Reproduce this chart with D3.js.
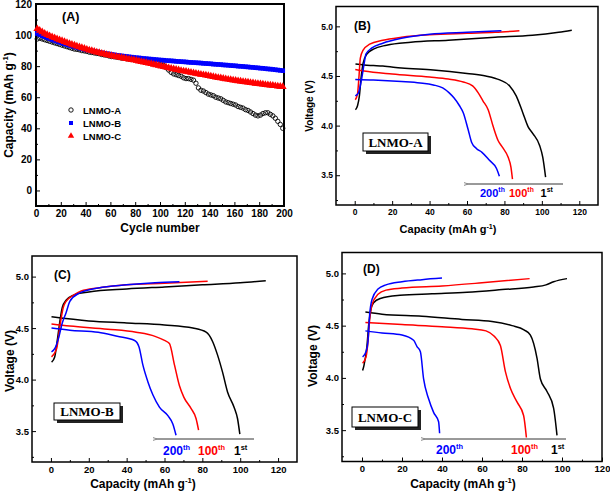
<!DOCTYPE html>
<html>
<head>
<meta charset="utf-8">
<script src="https://cdn.jsdelivr.net/npm/d3@7/dist/d3.min.js"></script>
<style>
body { margin: 0; background: #fff; }
text { font-family: "Liberation Sans", Arial, sans-serif; font-weight: bold; fill: #000; }
</style>
</head>
<body>
<div id="chart"></div>
<script>
// ---- panel A: capacity vs cycle (every 2nd cycle) ----
var cycles = d3.range(1, 200, 2);
var capA = [97.5, 98, 97.5, 97, 96.5, 96, 95.5, 95, 94.5, 94,
    93.5, 93, 92.5, 92, 91.5, 91, 90.8, 90.5, 90, 89.8,
    89.5, 89, 88.8, 88.5, 88.2, 88, 87.5, 87.2, 87, 86.5,
    86.2, 86, 85.8, 85.5, 85.2, 85, 84.8, 84.5, 84.3, 84.2,
    84, 84, 83.8, 83.8, 83.5, 83.2, 83, 82.8, 82.5, 82,
    81.5, 80.5, 79, 77.5, 76, 75, 74.5, 74, 73.5, 72.5,
    72, 72, 71.5, 71, 69, 66, 64.5, 64, 63, 62,
    61.5, 61, 60, 59.5, 59, 58, 57, 56.5, 56, 55.5,
    55, 54, 53.5, 53, 52, 51.5, 50.5, 49.5, 48.5, 48,
    48.5, 49.5, 50, 50, 49, 48, 46.5, 44.5, 42.5, 40];
var capB = [101, 100.3, 99.6, 99, 98.3, 97.7, 97.1, 96.5, 96, 95.4,
    94.9, 94.4, 93.9, 93.4, 93, 92.5, 92.1, 91.7, 91.3, 90.9,
    90.5, 90.2, 89.8, 89.5, 89.2, 88.9, 88.6, 88.3, 88, 87.8,
    87.5, 87.3, 87, 86.8, 86.6, 86.4, 86.2, 86, 85.8, 85.6,
    85.4, 85.3, 85.1, 84.9, 84.8, 84.6, 84.5, 84.3, 84.2, 84,
    83.9, 83.8, 83.6, 83.5, 83.4, 83.3, 83.1, 83, 82.9, 82.8,
    82.7, 82.5, 82.4, 82.3, 82.2, 82.1, 82, 81.8, 81.7, 81.6,
    81.5, 81.3, 81.2, 81.1, 81, 80.8, 80.7, 80.6, 80.4, 80.3,
    80.2, 80, 79.9, 79.8, 79.6, 79.5, 79.3, 79.2, 79, 78.9,
    78.7, 78.6, 78.4, 78.2, 78.1, 77.9, 77.7, 77.5, 77.3, 77.1];
var capC = [104, 103, 102, 101, 100.2, 99.5, 98.8, 98.2, 97.5, 96.9,
    96.3, 95.7, 95.1, 94.5, 93.9, 93.4, 92.8, 92.3, 91.8, 91.3,
    90.8, 90.3, 89.9, 89.4, 89, 88.6, 88.2, 87.8, 87.4, 87,
    86.7, 86.3, 86, 85.7, 85.4, 85.1, 84.8, 84.5, 84.2, 83.9,
    83.6, 83.2, 82.9, 82.5, 82.2, 81.8, 81.5, 81.1, 80.7, 80.4,
    80, 79.6, 79.3, 78.9, 78.5, 78.2, 77.8, 77.5, 77.1, 76.8,
    76.5, 76.2, 75.9, 75.6, 75.3, 75, 74.7, 74.4, 74.1, 73.8,
    73.5, 73.2, 72.9, 72.6, 72.4, 72.1, 71.8, 71.5, 71.3, 71,
    70.8, 70.5, 70.3, 70, 69.8, 69.6, 69.3, 69.1, 68.9, 68.7,
    68.5, 68.3, 68.1, 67.9, 67.7, 67.5, 67.3, 67.1, 66.9, 66.7];
var seriesNames = ["LNMO-A", "LNMO-B", "LNMO-C"];
var cycleTicks = [0, 20, 40, 60, 80, 100, 120, 140, 160, 180, 200];
var capTicks = [0, 20, 40, 60, 80, 100, 120];

// ---- panels B-D: voltage profiles [capacity, voltage] ----
var bCharge1st = [[0.4,4.16],[1.5,4.2],[2.5,4.3],[3.5,4.5],[4.5,4.63],[6.5,4.72],[10,4.77],[17,4.81],[30,4.84],[50,4.86],[75,4.89],[95,4.91],[109,4.94],[116,4.96]];
var bDischarge1st = [[0.4,4.62],[5,4.61],[10,4.605],[15,4.6],[25,4.58],[42,4.56],[60,4.525],[70,4.5],[77.5,4.46],[82.8,4.4],[86.3,4.3],[89.9,4.125],[92.6,3.99],[95.2,3.92],[98.8,3.8],[100.5,3.68],[102,3.48]];
var bCharge100th = [[0.3,4.26],[1.5,4.32],[2.3,4.5],[3,4.68],[4.5,4.76],[8,4.82],[15,4.86],[25,4.89],[40,4.915],[60,4.93],[75,4.94],[88,4.955]];
var bDischarge100th = [[0.3,4.565],[5,4.55],[20,4.52],[40,4.49],[50,4.47],[58,4.44],[63,4.4],[66,4.33],[68.5,4.25],[71.3,4.16],[74,3.99],[76.6,3.85],[79,3.78],[82,3.68],[83.5,3.58],[84.3,3.46]];
var bCharge200th = [[0.3,4.3],[2,4.33],[3.5,4.45],[5,4.62],[6,4.72],[9,4.78],[15,4.83],[25,4.88],[40,4.92],[60,4.94],[78.4,4.955]];
var bDischarge200th = [[0.3,4.465],[10,4.46],[25,4.445],[35,4.43],[42,4.41],[47,4.38],[50.5,4.33],[53,4.28],[56,4.2],[58,4.13],[60.6,3.96],[62.5,3.83],[65,3.77],[68,3.73],[72,3.65],[75.7,3.57],[77.3,3.49]];

var cCharge1st = [[0.35,4.17],[2,4.22],[3.5,4.4],[5,4.6],[6,4.7],[8,4.77],[12,4.82],[20,4.85],[40,4.88],[60,4.9],[80,4.92],[100,4.94],[113.5,4.96]];
var cDischarge1st = [[0.3,4.61],[20,4.57],[40,4.55],[60,4.53],[75,4.5],[82,4.46],[85.4,4.37],[88,4.24],[90.7,4.07],[93.3,3.88],[96.8,3.73],[98.6,3.62],[99.8,3.47]];
var cCharge100th = [[0.3,4.22],[3,4.3],[5,4.55],[6.5,4.7],[8,4.76],[12,4.82],[16,4.86],[25,4.89],[40,4.92],[60,4.935],[82.8,4.955]];
var cDischarge100th = [[0.3,4.54],[10,4.52],[30,4.49],[45,4.46],[55,4.42],[60,4.38],[62.6,4.35],[65.3,4.14],[67.9,3.94],[70.2,3.83],[74,3.72],[76.7,3.62],[78,3.51]];
var cCharge200th = [[0.3,4.27],[2,4.3],[4,4.4],[6,4.55],[8,4.65],[10,4.76],[15,4.84],[25,4.89],[40,4.92],[55,4.94],[67.9,4.95]];
var cDischarge200th = [[0.3,4.5],[10,4.48],[25,4.46],[35,4.42],[44.2,4.38],[46.5,4.32],[48.6,4.14],[51.2,3.98],[53.9,3.85],[57.4,3.73],[61.8,3.65],[64.4,3.57],[66.1,3.46]];

var dCharge1st = [[0.3,4.07],[1,4.12],[2.5,4.31],[3.3,4.5],[4.5,4.66],[5.8,4.72],[9.2,4.76],[19,4.79],[35,4.805],[52.5,4.82],[70,4.845],[85.8,4.87],[92,4.89],[95.8,4.92],[102.5,4.95]];
var dDischarge1st = [[1.7,4.63],[10,4.61],[30,4.59],[50,4.56],[65,4.54],[75,4.5],[81,4.46],[84.2,4.41],[87.5,4.19],[89.2,3.99],[92.5,3.87],[95.8,3.71],[97.5,3.45]];
var dCharge100th = [[0.3,4.14],[2,4.2],[3,4.35],[3.8,4.55],[5,4.7],[8,4.8],[12,4.84],[20,4.86],[40,4.88],[60,4.91],[83.8,4.95]];
var dDischarge100th = [[1.7,4.53],[20,4.51],[40,4.49],[55,4.47],[62,4.45],[66,4.4],[69.2,4.31],[71.7,4.06],[74.2,3.9],[77.5,3.77],[80.8,3.64],[82.2,3.43]];
var dCharge200th = [[0.3,4.2],[2,4.25],[3,4.35],[3.8,4.6],[5,4.75],[8,4.85],[12,4.89],[20,4.92],[30,4.94],[40,4.955]];
var dDischarge200th = [[1.7,4.45],[10,4.43],[20,4.41],[25.8,4.36],[27.5,4.3],[29.2,4.25],[30.8,3.99],[33.3,3.8],[35.8,3.67],[38.3,3.58],[38.8,3.47]];

var capacityTicks = [0, 20, 40, 60, 80, 100, 120];
var voltTicks = [3.5, 4.0, 4.5, 5.0];
var cycleLabels = ["200", "100", "1"];
var cycleSup = ["th", "th", "st"];
var cycleColors = ["#0000ff", "#ff0000", "#000000"];

var width = 610, height = 491;

var svg = d3.select("#chart").append("svg")
    .attr("width", width)
    .attr("height", height);

svg.append("defs").append("marker")
    .attr("id", "arrow")
    .attr("viewBox", "0 0 10 10")
    .attr("refX", 1).attr("refY", 5)
    .attr("markerWidth", 6).attr("markerHeight", 6)
    .attr("orient", "auto-start-reverse")
    .append("path")
    .attr("d", "M10,2L0,5L10,8")
    .attr("fill", "none")
    .attr("stroke", "#000")
    .attr("stroke-width", 1);

// inward ticks: major + minor, labels outside
function drawAxes(g, x, y, o) {
    var xr = x.range(), yr = y.range();
    g.append("g")
        .attr("transform", "translate(0," + yr[0] + ")")
        .call(d3.axisBottom(x).tickValues(o.xMinor).tickSize(-2).tickFormat(""))
        .call(function (s) { s.select(".domain").remove(); });
    g.append("g")
        .attr("transform", "translate(" + xr[0] + ",0)")
        .call(d3.axisLeft(y).tickValues(o.yMinor).tickSize(-2).tickFormat(""))
        .call(function (s) { s.select(".domain").remove(); });
    var xa = g.append("g")
        .attr("transform", "translate(0," + yr[0] + ")")
        .call(d3.axisBottom(x).tickValues(o.xTicks).tickSize(-4).tickPadding(o.xPad).tickFormat(o.xFmt));
    xa.select(".domain").remove();
    xa.selectAll("text").style("font-size", o.tickFont + "px").style("font-family", null);
    var ya = g.append("g")
        .attr("transform", "translate(" + xr[0] + ",0)")
        .call(d3.axisLeft(y).tickValues(o.yTicks).tickSize(-4).tickPadding(o.yPad).tickFormat(o.yFmt));
    ya.select(".domain").remove();
    ya.selectAll("text").style("font-size", o.tickFont + "px").style("font-family", null);
    g.selectAll(".tick line").attr("stroke", "#000").attr("stroke-width", 1);

    g.append("rect")
        .attr("x", xr[0]).attr("y", yr[1])
        .attr("width", xr[1] - xr[0]).attr("height", yr[0] - yr[1])
        .attr("fill", "none")
        .attr("stroke", "#000")
        .attr("stroke-width", o.frame);
}

function capTitle(g, cx, cy, size) {
    var t = g.append("text")
        .attr("x", cx).attr("y", cy)
        .attr("text-anchor", "middle")
        .style("font-size", size + "px");
    t.append("tspan").text("Capacity (mAh g");
    t.append("tspan").attr("dy", -size * 0.4).style("font-size", (size * 0.65) + "px").text("-1");
    t.append("tspan").attr("dy", size * 0.4).text(")");
    return t;
}

// ================= panel A =================
var xA = d3.scaleLinear().domain([0, 200]).range([36, 284]);
var yA = d3.scaleLinear().domain([-10, 120]).range([206, 4]);
var gA = svg.append("g");

drawAxes(gA, xA, yA, {
    xTicks: cycleTicks, xMinor: d3.range(10, 200, 20),
    yTicks: capTicks, yMinor: d3.range(10, 120, 20),
    xFmt: d3.format("d"), yFmt: d3.format("d"),
    tickFont: 10, xPad: 4, yPad: 4, frame: 2
});

var dataA = cycles.map(function (c, i) { return { c: c, a: capA[i], b: capB[i], cc: capC[i] }; });

gA.append("g").selectAll("circle")
    .data(dataA).enter().append("circle")
    .attr("cx", function (d) { return xA(d.c); })
    .attr("cy", function (d) { return yA(d.a); })
    .attr("r", 2.2)
    .attr("fill", "none")
    .attr("stroke", "#000")
    .attr("stroke-width", 0.9);

gA.append("g").selectAll("rect")
    .data(dataA).enter().append("rect")
    .attr("x", function (d) { return xA(d.c) - 2.3; })
    .attr("y", function (d) { return yA(d.b) - 2.3; })
    .attr("width", 4.6).attr("height", 4.6)
    .attr("fill", "#0000ff");

// dense red triangles merge into a band: a thick line keeps it solid
gA.append("path")
    .datum(dataA)
    .attr("d", d3.line().x(function (d) { return xA(d.c); }).y(function (d) { return yA(d.cc) + 0.5; }))
    .attr("fill", "none")
    .attr("stroke", "#ff0000")
    .attr("stroke-width", 3.5);

var tri = d3.symbol().type(d3.symbolTriangle).size(26);
gA.append("g").selectAll("path")
    .data(dataA).enter().append("path")
    .attr("d", tri)
    .attr("transform", function (d) { return "translate(" + xA(d.c) + "," + yA(d.cc) + ")"; })
    .attr("fill", "#ff0000");

// legend
var legA = gA.append("g");
legA.append("circle").attr("cx", 71).attr("cy", 110).attr("r", 2.2)
    .attr("fill", "none").attr("stroke", "#000").attr("stroke-width", 0.9);
legA.append("rect").attr("x", 69).attr("y", 121).attr("width", 4).attr("height", 4).attr("fill", "#0000ff");
legA.append("path").attr("d", d3.symbol().type(d3.symbolTriangle).size(18)).attr("transform", "translate(71,136)").attr("fill", "#ff0000");
legA.selectAll("text")
    .data(seriesNames).enter().append("text")
    .attr("x", 83)
    .attr("y", function (d, i) { return 113.5 + i * 13; })
    .style("font-size", "9.5px")
    .text(function (d) { return d; });

gA.append("text").attr("x", 62).attr("y", 21).style("font-size", "12.5px").text("(A)");
gA.append("text").attr("x", 160).attr("y", 232).attr("text-anchor", "middle")
    .style("font-size", "12px").text("Cycle number");
capTitle(gA, 0, 0, 12).attr("transform", "translate(13,105) rotate(-90)");

// ================= panels B-D =================
var panels = [
    {
        label: "(B)", sample: "LNMO-A",
        xr: [336, 598], yr: [205, 6.5], xDom: [-10, 130],
        curves: [bCharge1st, bDischarge1st, bCharge100th, bDischarge100th, bCharge200th, bDischarge200th],
        tickFont: 8.5, frame: 1.5,
        labelPos: [354, 29.5, 12], capPos: [448, 233, 11], voltPos: [313, 106, 10],
        box: [363, 133, 65, 18, 13], arrow: [468, 563, 184],
        cyc: [[480, 196.5], [509, 196.5], [540.5, 196.5]], cycFont: 11
    },
    {
        label: "(C)", sample: "LNMO-B",
        xr: [32, 297], yr: [462, 256], xDom: [-10, 130],
        curves: [cCharge1st, cDischarge1st, cCharge100th, cDischarge100th, cCharge200th, cDischarge200th],
        tickFont: 9.5, frame: 1.5,
        labelPos: [54, 279, 12], capPos: [143, 488, 12], voltPos: [14, 361, 12],
        box: [54, 403, 66, 17, 13], arrow: [157, 254, 439],
        cyc: [[163, 455], [198, 455], [234, 455]], cycFont: 12
    },
    {
        label: "(D)", sample: "LNMO-C",
        xr: [342, 602], yr: [461.5, 252.5], xDom: [-10, 120],
        curves: [dCharge1st, dDischarge1st, dCharge100th, dDischarge100th, dCharge200th, dDischarge200th],
        tickFont: 9.5, frame: 1.5,
        labelPos: [363, 273, 12], capPos: [463, 488, 12], voltPos: [317, 356, 12],
        box: [352, 407, 66, 20, 13], arrow: [425, 566, 439],
        cyc: [[436, 454], [511, 454], [551, 454]], cycFont: 12
    }
];

var curveColors = ["#000000", "#000000", "#ff0000", "#ff0000", "#0000ff", "#0000ff"];

panels.forEach(function (p) {
    var g = svg.append("g");
    var x = d3.scaleLinear().domain(p.xDom).range(p.xr);
    var y = d3.scaleLinear().domain([3.2, 5.2]).range(p.yr);

    drawAxes(g, x, y, {
        xTicks: capacityTicks.filter(function (v) { return v <= p.xDom[1]; }),
        xMinor: d3.range(-10, p.xDom[1], 20).filter(function (v) { return v > p.xDom[0]; }),
        yTicks: voltTicks, yMinor: [3.25, 3.75, 4.25, 4.75],
        xFmt: d3.format("d"), yFmt: d3.format(".1f"),
        tickFont: p.tickFont, xPad: 4, yPad: 3, frame: p.frame
    });

    var line = d3.line()
        .x(function (d) { return x(d[0]); })
        .y(function (d) { return y(d[1]); })
        .curve(d3.curveMonotoneX);

    g.append("g").selectAll("path")
        .data(p.curves).enter().append("path")
        .attr("d", line)
        .attr("fill", "none")
        .attr("stroke", function (d, i) { return curveColors[i]; })
        .attr("stroke-width", 1.5);

    g.append("text").attr("x", p.labelPos[0]).attr("y", p.labelPos[1])
        .style("font-size", p.labelPos[2] + "px").text(p.label);

    capTitle(g, p.capPos[0], p.capPos[1], p.capPos[2]);
    g.append("text")
        .attr("transform", "translate(" + p.voltPos[0] + "," + p.voltPos[1] + ") rotate(-90)")
        .attr("text-anchor", "middle")
        .style("font-size", p.voltPos[2] + "px")
        .text("Voltage (V)");

    // sample box with shadow
    var b = p.box;
    g.append("rect").attr("x", b[0] + 3).attr("y", b[1] + 3).attr("width", b[2]).attr("height", b[3]).attr("fill", "#222");
    g.append("rect").attr("x", b[0]).attr("y", b[1]).attr("width", b[2]).attr("height", b[3])
        .attr("fill", "#fff").attr("stroke", "#000").attr("stroke-width", 1);
    g.append("text")
        .attr("x", b[0] + b[2] / 2).attr("y", b[1] + b[3] / 2 + b[4] * 0.35)
        .attr("text-anchor", "middle")
        .style("font-family", "'Liberation Serif', 'Times New Roman', serif")
        .style("font-size", b[4] + "px")
        .text(p.sample);

    // arrow and cycle labels
    g.append("line")
        .attr("x1", p.arrow[1]).attr("x2", p.arrow[0])
        .attr("y1", p.arrow[2]).attr("y2", p.arrow[2])
        .attr("stroke", "#000").attr("stroke-width", 0.8)
        .attr("marker-end", "url(#arrow)");

    p.cyc.forEach(function (pos, i) {
        var t = g.append("text").attr("x", pos[0]).attr("y", pos[1])
            .style("font-size", p.cycFont + "px")
            .style("fill", cycleColors[i]);
        t.append("tspan").text(cycleLabels[i]);
        t.append("tspan").attr("dy", -p.cycFont * 0.45)
            .style("font-size", (p.cycFont * 0.62) + "px").text(cycleSup[i]);
    });
});
</script>
</body>
</html>
